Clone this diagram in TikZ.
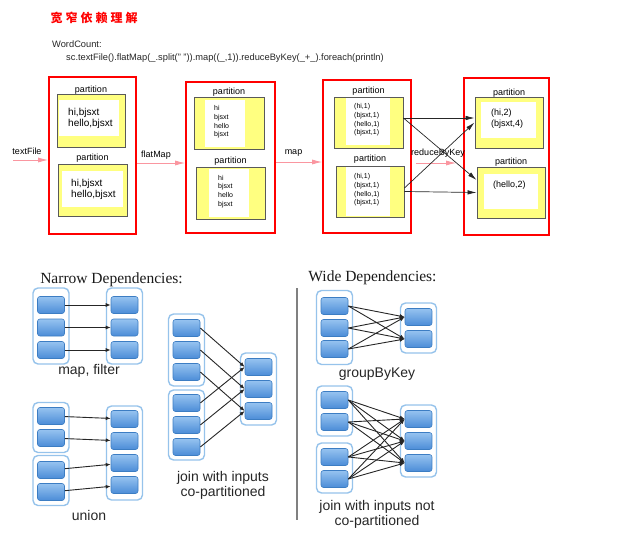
\documentclass[tikz,border=0pt]{standalone}
\usepackage{fontspec}
\setmainfont{Liberation Sans}
\newfontfamily\titlefont{Liberation Serif}
\newfontfamily\cjk{Noto Sans CJK SC}
\usetikzlibrary{arrows.meta}

\definecolor{partyellow}{RGB}{255,255,128}
\definecolor{cellborder}{RGB}{60,125,195}
\definecolor{celltop}{RGB}{150,195,240}
\definecolor{cellbottom}{RGB}{75,140,215}
\definecolor{rddborder}{RGB}{150,195,235}
\definecolor{flowpink}{RGB}{250,150,160}

\tikzstyle{stage}=[draw=red,line width=1.6pt,inner sep=0pt]
\tikzstyle{part}=[draw=black!65,fill=partyellow,line width=0.9pt,inner sep=0pt]
\tikzstyle{paper}=[fill=white,inner sep=0pt]
\tikzstyle{partlabel}=[font=\fontsize{9}{9}\selectfont,inner sep=0pt]
\tikzstyle{words}=[anchor=west,align=left,inner sep=0pt]
\tikzstyle{flow}=[draw=flowpink,line width=0.9pt,-{Latex[length=10pt,width=5pt]}]
\tikzstyle{shuffle}=[draw=black!85,line width=0.7pt,-{Latex[length=9pt,width=4.5pt]}]
\tikzstyle{rdd}=[draw=rddborder,line width=1.4pt,rounded corners=5pt,fill=white,minimum width=36pt,inner sep=0pt]
\tikzstyle{cell}=[draw=cellborder,line width=0.6pt,rounded corners=2.5pt,top color=celltop,bottom color=cellbottom,minimum width=27pt,minimum height=17pt,inner sep=0pt]
\tikzstyle{dep}=[draw=black!85,line width=0.9pt,-{Latex[length=5pt,width=4pt]}]
\tikzstyle{caption}=[font=\fontsize{14}{15}\selectfont,align=center,text=black!85,inner sep=0pt]
\tikzstyle{heading}=[font=\titlefont\fontsize{15.5}{16}\selectfont,text=black!90,inner sep=0pt]

\begin{document}
\begin{tikzpicture}[x=1pt,y=-1pt]

   \useasboundingbox (0,0) rectangle (617,535);

   % Title and code

   \node[text=red,inner sep=0pt,font=\cjk\bfseries\fontsize{12}{12}\selectfont\addfontfeature{LetterSpace=25}] (title) at (94,18) {宽窄依赖理解};
   \node[anchor=west,inner sep=0pt,font=\fontsize{9.3}{9.3}\selectfont,text=black!85] (wc) at (52,44) {WordCount:};
   \node[anchor=west,inner sep=0pt,font=\fontsize{9.3}{9.3}\selectfont,text=black!85] (code) at (66,58)
{sc.textFile().flatMap(\_.split(" ")).map((\_,1)).reduceByKey(\_+\_).foreach(println)};

   % textFile stage

   \node[stage,minimum width=87pt,minimum height=157pt] (s1) at (92.5,155.5) {};
   \node[part,minimum width=68pt,minimum height=53pt] (p11) at (91,120.5) {};
   \node[paper,minimum width=60pt,minimum height=36pt] (w11) at (89,118) {};
   \node[words,font=\fontsize{10}{11}\selectfont] (t11) at (68,118) {hi,bjsxt\\hello,bjsxt};
   \node[partlabel] (l11) at (91,90) {partition};

   \node[part,minimum width=69pt,minimum height=52pt] (p12) at (92.5,190) {};
   \node[paper,minimum width=61pt,minimum height=36pt] (w12) at (92.5,189) {};
   \node[words,font=\fontsize{10}{11}\selectfont] (t12) at (71,189) {hi,bjsxt\\hello,bjsxt};
   \node[partlabel] (l12) at (92.5,158) {partition};

   % flatMap stage

   \node[stage,minimum width=89pt,minimum height=151pt] (s2) at (230.5,157.5) {};
   \node[part,minimum width=70pt,minimum height=52pt] (p21) at (229,123) {};
   \node[paper,minimum width=40pt,minimum height=47pt] (w21) at (225,123.5) {};
   \node[words,font=\fontsize{7}{8.7}\selectfont] (t21) at (214,122) {hi\\bjsxt\\hello\\bjsxt};
   \node[partlabel] (l21) at (229,92) {partition};

   \node[part,minimum width=69pt,minimum height=52pt] (p22) at (230.5,193) {};
   \node[paper,minimum width=40pt,minimum height=48pt] (w22) at (229,193) {};
   \node[words,font=\fontsize{7}{8.7}\selectfont] (t22) at (218,191.5) {hi\\bjsxt\\hello\\bjsxt};
   \node[partlabel] (l22) at (230.5,161) {partition};

   % map stage

   \node[stage,minimum width=88pt,minimum height=153pt] (s3) at (367,156.5) {};
   \node[part,minimum width=69pt,minimum height=51pt] (p31) at (368.5,122.5) {};
   \node[paper,minimum width=44pt,minimum height=47pt] (w31) at (368,121.5) {};
   \node[words,font=\fontsize{7}{8.7}\selectfont] (t31) at (354,120) {(hi,1)\\(bjsxt,1)\\(hello,1)\\(bjsxt,1)};
   \node[partlabel] (l31) at (368.5,91) {partition};

   \node[part,minimum width=68pt,minimum height=51pt] (p32) at (370,191.5) {};
   \node[paper,minimum width=44pt,minimum height=49pt] (w32) at (368,191.5) {};
   \node[words,font=\fontsize{7}{8.7}\selectfont] (t32) at (354,190) {(hi,1)\\(bjsxt,1)\\(hello,1)\\(bjsxt,1)};
   \node[partlabel] (l32) at (370,159) {partition};

   % reduceByKey stage

   \node[stage,minimum width=85pt,minimum height=157pt] (s4) at (506.5,156.5) {};
   \node[part,minimum width=68pt,minimum height=51pt] (p41) at (509,122.5) {};
   \node[paper,minimum width=55pt,minimum height=36pt] (w41) at (508.5,120) {};
   \node[words,font=\fontsize{9}{11}\selectfont] (t41) at (491,118.5) {(hi,2)\\(bjsxt,4)};
   \node[partlabel] (l41) at (509,93) {partition};

   \node[part,minimum width=68pt,minimum height=51pt] (p42) at (511,192.5) {};
   \node[paper,minimum width=54pt,minimum height=35pt] (w42) at (511,191.5) {};
   \node[words,font=\fontsize{9}{11}\selectfont] (t42) at (493,185) {(hello,2)};
   \node[partlabel] (l42) at (511,162) {partition};

   % Operators

   \node[partlabel] (textfile) at (27,151) {textFile};
   \node[partlabel] (flatmap) at (156,155) {flatMap};
   \node[partlabel] (map) at (293.5,153) {map};
   \node[partlabel] (reduce) at (438,153) {reduceByKey};

   \coordinate (src) at (13,160);
   \draw[flow] (src) -- (src -| s1.west);
   \draw[flow] ([yshift=-7.5pt]s1.east) -- ([yshift=-5.5pt]s2.west);
   \draw[flow] ([yshift=-4.5pt]s2.east) -- ([yshift=-5.5pt]s3.west);
   \draw[flow,shorten <=4pt,shorten >=7pt] ([yshift=-6.5pt]s3.east) -- ([yshift=-6.5pt]s4.west);

   \draw[shuffle] ([yshift=4.5pt]p31.east) -- ([yshift=4.5pt]p41.west);
   \draw[shuffle] ([yshift=4.5pt]p31.east) -- ([yshift=12.5pt]p42.west);
   \draw[shuffle] ([yshift=3.5pt]p32.east) -- (p41.west);
   \draw[shuffle] (p32.east) -- (p42.west);

   % Narrow dependencies

   \node[heading] (narrow) at (111.5,280) {Narrow Dependencies:};

   \node[rdd,minimum height=76pt] (mfL) at (51,326) {};
   \node[cell] (mfL1) at (51,305) {};
   \node[cell] (mfL2) at (51,327.5) {};
   \node[cell] (mfL3) at (51,350) {};
   \node[rdd,minimum height=76pt] (mfR) at (124.5,326) {};
   \node[cell] (mfR1) at (124.5,305) {};
   \node[cell] (mfR2) at (124.5,327.5) {};
   \node[cell] (mfR3) at (124.5,350) {};
   \draw[dep] (mfL1) -- (mfR1);
   \draw[dep] (mfL2) -- (mfR2);
   \draw[dep] (mfL3) -- (mfR3);
   \node[caption] (mfcap) at (89,371) {map, filter};

   \node[rdd,minimum height=50pt] (unLa) at (51,427.5) {};
   \node[cell] (unL1) at (51,416) {};
   \node[cell] (unL2) at (51,438) {};
   \node[rdd,minimum height=50pt] (unLb) at (51,480.5) {};
   \node[cell] (unL3) at (51,470) {};
   \node[cell] (unL4) at (51,492) {};
   \node[rdd,minimum height=94pt] (unR) at (124.5,453) {};
   \node[cell] (unR1) at (124.5,419) {};
   \node[cell] (unR2) at (124.5,441) {};
   \node[cell] (unR3) at (124.5,463) {};
   \node[cell] (unR4) at (124.5,485) {};
   \draw[dep] (unL1) -- (unR1);
   \draw[dep] (unL2) -- (unR2);
   \draw[dep] (unL3) -- (unR3);
   \draw[dep] (unL4) -- (unR4);
   \node[caption] (uncap) at (89,515) {union};

   \node[rdd,minimum height=72pt] (jcLa) at (186.5,350) {};
   \node[cell] (jcL1) at (186.5,328) {};
   \node[cell] (jcL2) at (186.5,350) {};
   \node[cell] (jcL3) at (186.5,372) {};
   \node[rdd,minimum height=70pt] (jcLb) at (186.5,425) {};
   \node[cell] (jcL4) at (186.5,403) {};
   \node[cell] (jcL5) at (186.5,425) {};
   \node[cell] (jcL6) at (186.5,447) {};
   \node[rdd,minimum height=72pt] (jcR) at (258.5,389) {};
   \node[cell] (jcR1) at (258.5,367) {};
   \node[cell] (jcR2) at (258.5,389) {};
   \node[cell] (jcR3) at (258.5,411) {};
   \draw[dep] (jcL1.east) -- (jcR1.west);
   \draw[dep] (jcL2.east) -- (jcR2.west);
   \draw[dep] (jcL3.east) -- (jcR3.west);
   \draw[dep] (jcL4.east) -- (jcR1.west);
   \draw[dep] (jcL5.east) -- (jcR2.west);
   \draw[dep] (jcL6.east) -- (jcR3.west);
   \node[caption] (jccap) at (223,485) {join with inputs\\co-partitioned};

   \draw[draw=black!50,line width=1.2pt] (297,288) -- (297,520);

   % Wide dependencies

   \node[heading] (wide) at (372.5,278) {Wide Dependencies:};

   \node[rdd,minimum height=74pt] (gbL) at (334.5,327.5) {};
   \node[cell] (gbL1) at (334.5,306) {};
   \node[cell] (gbL2) at (334.5,328) {};
   \node[cell] (gbL3) at (334.5,349) {};
   \node[rdd,minimum height=50pt] (gbR) at (418.5,328) {};
   \node[cell] (gbR1) at (418.5,317) {};
   \node[cell] (gbR2) at (418.5,339) {};
   \draw[dep] (gbL1.east) -- (gbR1.west);
   \draw[dep] (gbL1.east) -- (gbR2.west);
   \draw[dep] (gbL2.east) -- (gbR1.west);
   \draw[dep] (gbL2.east) -- (gbR2.west);
   \draw[dep] (gbL3.east) -- (gbR1.west);
   \draw[dep] (gbL3.east) -- (gbR2.west);
   \node[caption] (gbcap) at (377,374) {groupByKey};

   \node[rdd,minimum height=50pt] (jnLa) at (334.5,411) {};
   \node[cell] (jnL1) at (334.5,400) {};
   \node[cell] (jnL2) at (334.5,422) {};
   \node[rdd,minimum height=50pt] (jnLb) at (334.5,468) {};
   \node[cell] (jnL3) at (334.5,457) {};
   \node[cell] (jnL4) at (334.5,479) {};
   \node[rdd,minimum height=72pt] (jnR) at (418.5,441) {};
   \node[cell] (jnR1) at (418.5,419) {};
   \node[cell] (jnR2) at (418.5,441) {};
   \node[cell] (jnR3) at (418.5,463) {};
   \draw[dep] (jnL1.east) -- (jnR1.west);
   \draw[dep] (jnL1.east) -- (jnR2.west);
   \draw[dep] (jnL1.east) -- (jnR3.west);
   \draw[dep] (jnL2.east) -- (jnR1.west);
   \draw[dep] (jnL2.east) -- (jnR2.west);
   \draw[dep] (jnL2.east) -- (jnR3.west);
   \draw[dep] (jnL3.east) -- (jnR1.west);
   \draw[dep] (jnL3.east) -- (jnR2.west);
   \draw[dep] (jnL3.east) -- (jnR3.west);
   \draw[dep] (jnL4.east) -- (jnR1.west);
   \draw[dep] (jnL4.east) -- (jnR2.west);
   \draw[dep] (jnL4.east) -- (jnR3.west);
   \node[caption] (jncap) at (377,514) {join with inputs not\\co-partitioned};

\end{tikzpicture}
\end{document}
